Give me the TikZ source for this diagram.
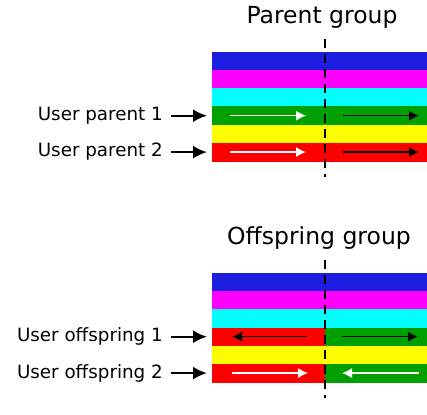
\documentclass[tikz,border=0pt]{standalone}
\usepackage{fontspec}
\setmainfont{DejaVu Sans}
\usetikzlibrary{arrows.meta,positioning,calc}
\definecolor{bandblue}{RGB}{30,30,225}
\definecolor{bandmag}{RGB}{255,0,255}
\definecolor{bandcyan}{RGB}{0,255,255}
\definecolor{bandgreen}{RGB}{0,160,0}
\definecolor{bandyellow}{RGB}{255,255,0}
\definecolor{bandred}{RGB}{255,0,0}

\begin{document}
\begin{tikzpicture}[x=1pt,y=-1pt,font=\fontsize{18.3}{20}\selectfont]
\tikzset{
  half/.style={inner sep=0pt,outer sep=0pt,minimum height=18.2pt,anchor=north west,line width=0.2pt},
  lhalf/.style={half,minimum width=113pt},
  rhalf/.style={half,minimum width=102pt},
  title/.style={font=\fontsize{23.5}{26}\selectfont},
  lab/.style={anchor=east,inner sep=0pt},
  ptr/.style={-{Latex[length=14pt,width=13pt]},line width=2.2pt,shorten >=5pt},
  flow/.style={-{Latex[length=10pt,width=10pt]},line width=1.3pt},
  cut/.style={dash pattern=on 9pt off 6pt,line width=1.4pt}
}
\useasboundingbox (0,0) rectangle (427,414);
% parent group
\node(ptitle)[title] at (322,17) {Parent group};
\foreach \c [count=\i] in {bandblue,bandmag,bandcyan,bandgreen,bandyellow,bandred}{
  \node(pL\i)[lhalf,fill=\c,draw=\c] at (212,{52+18.2*(\i-1)}) {};
  \node(pR\i)[rhalf,fill=\c,draw=\c] at (325,{52+18.2*(\i-1)}) {};
}
\coordinate(pcut1) at (325,39); \coordinate(pcut2) at (325,177);
\draw[cut](pcut1)--(pcut2);
\node(up1)[lab,left=49pt of pL4.west] {User parent 1};
\node(up2)[lab,left=49pt of pL6.west] {User parent 2};
\draw[ptr]($(up1.east)+(8,0)$)--(pL4.west);
\draw[ptr]($(up2.east)+(8,0)$)--(pL6.west);
\draw[flow,white]($(pL4.west)+(18,0)$)--($(pL4.east)+(-19,0)$);
\draw[flow]($(pR4.west)+(18,0)$)--($(pR4.east)+(-8,0)$);
\draw[flow,white]($(pL6.west)+(18,0)$)--($(pL6.east)+(-19,0)$);
\draw[flow]($(pR6.west)+(18,0)$)--($(pR6.east)+(-8,0)$);
% offspring group
\node(otitle)[title] at (319,238) {Offspring group};
\foreach \c/\d [count=\i] in {bandblue/bandblue,bandmag/bandmag,bandcyan/bandcyan,bandred/bandgreen,bandyellow/bandyellow,bandred/bandgreen}{
  \node(oL\i)[lhalf,fill=\c,draw=\c] at (212,{273+18.2*(\i-1)}) {};
  \node(oR\i)[rhalf,fill=\d,draw=\d] at (325,{273+18.2*(\i-1)}) {};
}
\coordinate(ocut1) at (325,260); \coordinate(ocut2) at (325,398);
\draw[cut](ocut1)--(ocut2);
\node(uo1)[lab,left=49pt of oL4.west] {User offspring 1};
\node(uo2)[lab,left=49pt of oL6.west] {User offspring 2};
\draw[ptr]($(uo1.east)+(8,0)$)--(oL4.west);
\draw[ptr]($(uo2.east)+(8,0)$)--(oL6.west);
\draw[flow]($(oL4.east)+(-18,0)$)--($(oL4.west)+(20,0)$);
\draw[flow]($(oR4.west)+(17,0)$)--($(oR4.east)+(-9,0)$);
\draw[flow,white]($(oL6.west)+(20,0)$)--($(oL6.east)+(-17,0)$);
\draw[flow,white]($(oR6.east)+(-8,0)$)--($(oR6.west)+(17,0)$);
\end{tikzpicture}
\end{document}
